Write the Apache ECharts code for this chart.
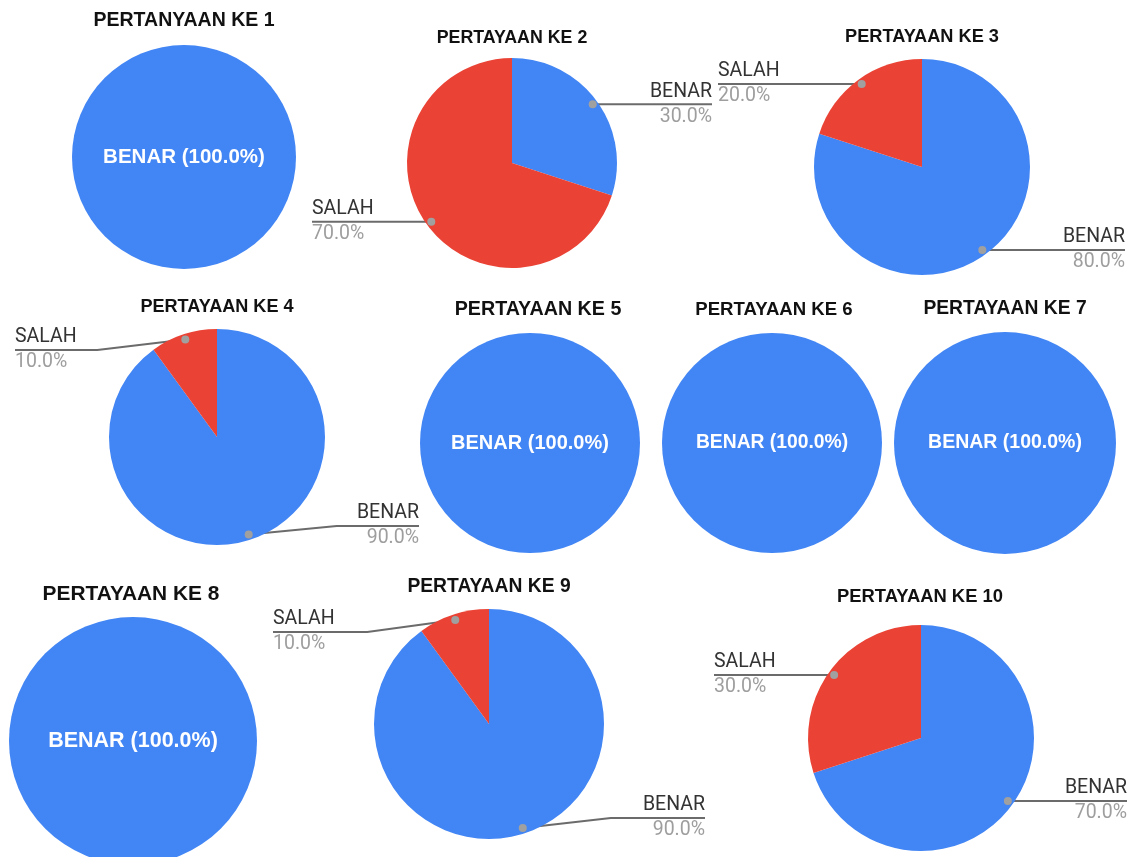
<!DOCTYPE html>
<html>
<head>
<meta charset="utf-8">
<script src="https://cdn.jsdelivr.net/npm/echarts@6/dist/echarts.min.js"></script>
<style>
html,body{margin:0;padding:0;background:#fff;}
#main{width:1136px;height:857px;}
</style>
</head>
<body>
<div id="main"></div>
<script>
// ---- data ----
const titles = ['PERTANYAAN KE 1','PERTAYAAN KE 2','PERTAYAAN KE 3','PERTAYAAN KE 4','PERTAYAAN KE 5',
                'PERTAYAAN KE 6','PERTAYAAN KE 7','PERTAYAAN KE 8','PERTAYAAN KE 9','PERTAYAAN KE 10'];
const sliceNames = ['BENAR','SALAH'];
const benar = [100, 30, 80, 90, 100, 100, 100, 100, 90, 70];
const salah = [0, 70, 20, 10, 0, 0, 0, 0, 10, 30];

// ---- layout (positions / sizes) ----
const L = [
  {cx:184, cy:157, r:112, tx:184, ty:21, tf:19.5, inner:20.5},
  {cx:512, cy:163, r:105, tx:512, ty:38, tf:17.8, xl:312, xr:712},
  {cx:922, cy:167, r:108, tx:922, ty:37, tf:18.2, xl:718, xr:1125},
  {cx:217, cy:437, r:108, tx:217, ty:307, tf:18.1, xl:15, xr:419, ymin:350, ymax:526},
  {cx:530, cy:443, r:110, tx:538, ty:310, tf:19.7, inner:20},
  {cx:772, cy:443, r:110, tx:774, ty:310, tf:18.6, inner:19.3},
  {cx:1005, cy:443, r:111, tx:1005, ty:309, tf:19.3, inner:19.5},
  {cx:133, cy:741, r:124, tx:131, ty:594, tf:20.9, inner:21.5},
  {cx:489, cy:724, r:115, tx:489, ty:587, tf:19.3, xl:273, xr:705, ymin:632, ymax:818},
  {cx:921, cy:738, r:113, tx:920, ty:597, tf:18.4, xl:714, xr:1127}
];
const BLUE = '#4285F4', RED = '#EA4335';

function dotPoint(i, k) {
  const vals = [benar[i], salah[i]];
  const tot = vals[0] + vals[1];
  let cum = 0;
  for (let j = 0; j < k; j++) cum += vals[j];
  const a = (90 - (cum + vals[k] / 2) / tot * 360) * Math.PI / 180;
  const rr = L[i].r * 0.95;
  return [L[i].cx + rr * Math.cos(a), L[i].cy - rr * Math.sin(a)];
}

const series = [];
const graphics = [];
titles.forEach((t, i) => {
  const vals = [benar[i], salah[i]];
  const data = [];
  vals.forEach((v, k) => { if (v > 0) data.push({name: sliceNames[k], value: v, itemStyle: {color: k === 0 ? BLUE : RED}}); });
  const lay = L[i];
  if (data.length === 1) {
    series.push({
      type: 'pie', center: [lay.cx, lay.cy], radius: lay.r, startAngle: 90,
      silent: true,
      data: data,
      label: {show: true, position: 'center',
              formatter: p => p.name + ' (' + p.percent.toFixed(1) + '%)',
              color: '#fff', fontFamily: 'Liberation Sans', fontWeight: 'bold', fontSize: lay.inner},
      labelLine: {show: false}
    });
  } else {
    const idx = i;
    series.push({
      type: 'pie', center: [lay.cx, lay.cy], radius: lay.r, startAngle: 90, clockwise: true,
      silent: true, avoidLabelOverlap: false,
      data: data,
      label: {
        show: true, position: 'outside',
        formatter: p => '{n|' + p.name + '}\n{p|' + p.percent.toFixed(1) + '%}',
        rich: {
          n: {fontFamily: 'Roboto', fontSize: 19.5, color: '#333', lineHeight: 25},
          p: {fontFamily: 'Roboto', fontSize: 19.5, color: '#9e9e9e', lineHeight: 25}
        }
      },
      labelLine: {show: true, smooth: false, lineStyle: {color: '#6b6b6b', width: 2}},
      labelLayout: function (params) {
        const k = params.dataIndex;
        const d = dotPoint(idx, k);
        const right = d[0] >= lay.cx;
        let y = d[1];
        if (lay.ymin !== undefined) y = Math.max(lay.ymin, Math.min(lay.ymax, y));
        const xEnd = right ? lay.xr : lay.xl;
        let pts;
        if (Math.abs(y - d[1]) < 0.5) {
          pts = [[d[0], d[1]], [(d[0] + xEnd) / 2, y], [xEnd, y]];
        } else {
          const bx = right ? d[0] + 88 : d[0] - 88;
          pts = [[d[0], d[1]], [bx, y], [xEnd, y]];
        }
        return {x: xEnd, y: y, align: right ? 'right' : 'left', verticalAlign: 'middle', labelLinePoints: pts};
      }
    });
    data.forEach((dd, k) => {
      const p = dotPoint(i, k);
      graphics.push({type: 'circle', z: 100, shape: {cx: p[0], cy: p[1], r: 4}, style: {fill: '#a0a0a0'}});
    });
  }
});

const chart = echarts.init(document.getElementById('main'));
chart.setOption({
  animation: false,
  backgroundColor: '#fff',
  title: titles.map((t, i) => ({
    text: t, left: L[i].tx, top: L[i].ty, textAlign: 'center', textVerticalAlign: 'middle', padding: 0,
    textStyle: {fontFamily: 'Liberation Sans', fontWeight: 'bold', fontSize: L[i].tf, color: '#111'}
  })),
  series: series,
  graphic: graphics
});
</script>
</body>
</html>
